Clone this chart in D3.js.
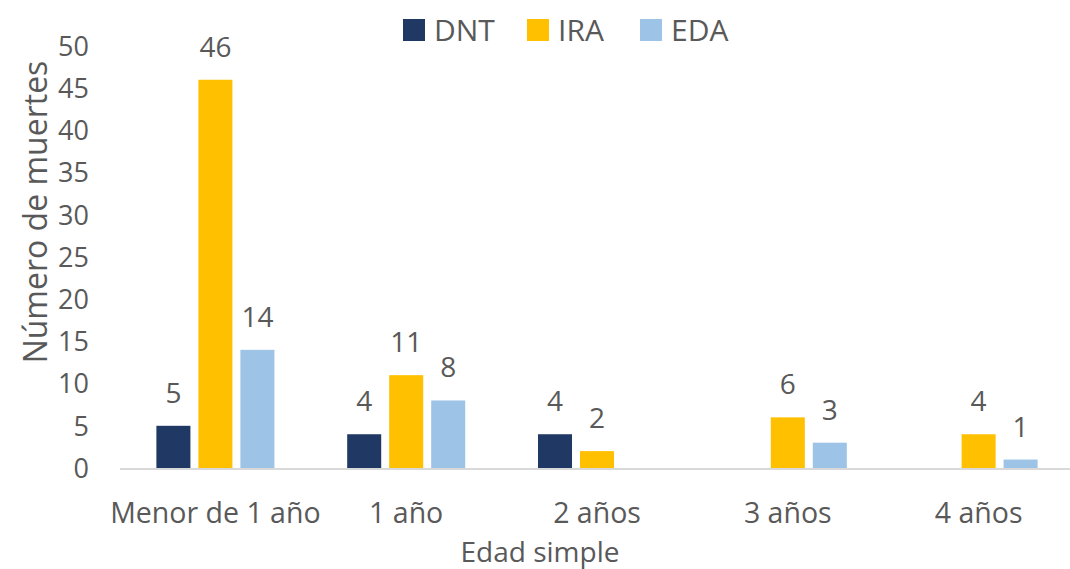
<!DOCTYPE html>
<html>
<head>
<meta charset="utf-8">
<script src="https://cdn.jsdelivr.net/npm/d3@7"></script>
<style>
  body { margin: 0; background: #fff; }
  svg text { font-family: "Open Sans", Lato, sans-serif; fill: #595959; }
</style>
</head>
<body>
<div id="chart"></div>
<script>
// Data
const categories = ['Menor de 1 año', '1 año', '2 años', '3 años', '4 años']
const seriesNames = ['DNT', 'IRA', 'EDA']
const dnt = [5, 4, 4, null, null]
const ira = [46, 11, 2, 6, 4]
const eda = [14, 8, null, 3, 1]
const yTicks = [0, 5, 10, 15, 20, 25, 30, 35, 40, 45, 50]
const colors = ['#1f3864', '#ffc000', '#9dc3e6']

const width = 1070
const height = 569

let svg = d3.select('#chart').append('svg')
    .attr('width', width)
    .attr('height', height)

// Scales
const x0 = d3.scaleBand()
    .domain(categories)
    .range([120, 1074])

const x1 = d3.scaleBand()
    .domain(seriesNames)
    .range([0, 126])
    .paddingInner(0.19)
    .paddingOuter(0.095)

const y = d3.scaleLinear()
    .domain([0, 50])
    .range([468, 46])

const colorScale = d3.scaleOrdinal()
    .domain(seriesNames)
    .range(colors)

// Axis line
svg.append('line')
    .attr('x1', 120)
    .attr('x2', 1070)
    .attr('y1', y(0) + 1)
    .attr('y2', y(0) + 1)
    .style('stroke', '#d9d9d9')
    .style('stroke-width', 2)

// Y ticks
svg.append('g').selectAll('text')
    .data(yTicks)
    .join('text')
    .attr('x', 89)
    .attr('y', d => y(d))
    .attr('dy', '0.36em')
    .attr('text-anchor', 'end')
    .style('font-size', '27px')
    .text(d => d)

// Category labels
svg.append('g').selectAll('text')
    .data(categories)
    .join('text')
    .attr('x', d => x0(d) + x0.bandwidth() / 2)
    .attr('y', 523)
    .attr('text-anchor', 'middle')
    .style('font-size', '28.5px')
    .text(d => d)

// Bars
const rows = categories.map((c, i) => ({
    cat: c,
    vals: [dnt[i], ira[i], eda[i]].map((v, j) => ({ key: seriesNames[j], value: v }))
}))

let groups = svg.append('g').selectAll('g')
    .data(rows)
    .join('g')
    .attr('transform', d => 'translate(' + (x0(d.cat) + x0.bandwidth() / 2 - 63) + ',0)')

groups.selectAll('rect')
    .data(d => d.vals.filter(v => v.value !== null))
    .join('rect')
    .attr('x', d => x1(d.key))
    .attr('width', x1.bandwidth())
    .attr('y', d => y(d.value))
    .attr('height', d => y(0) - y(d.value))
    .style('fill', d => colorScale(d.key))

groups.selectAll('text')
    .data(d => d.vals.filter(v => v.value !== null))
    .join('text')
    .attr('x', d => x1(d.key) + x1.bandwidth() / 2)
    .attr('y', d => y(d.value) - 23)
    .attr('text-anchor', 'middle')
    .style('font-size', '28px')
    .text(d => d.value)

// Axis titles
svg.append('text')
    .attr('x', 540)
    .attr('y', 562)
    .attr('text-anchor', 'middle')
    .style('font-size', '28px')
    .text('Edad simple')

svg.append('text')
    .attr('transform', 'translate(47,212) rotate(-90)')
    .attr('text-anchor', 'middle')
    .style('font-size', '32px')
    .text('Número de muertes')

// Legend
const legendX = [403, 527, 640]
let legend = svg.append('g').selectAll('g')
    .data(seriesNames)
    .join('g')
    .attr('transform', (d, i) => 'translate(' + legendX[i] + ',19)')

legend.append('rect')
    .attr('width', 22)
    .attr('height', 22)
    .style('fill', d => colorScale(d))

legend.append('text')
    .attr('x', 31)
    .attr('y', 11)
    .attr('dy', '0.36em')
    .style('font-size', '30px')
    .text(d => d)
</script>
</body>
</html>
